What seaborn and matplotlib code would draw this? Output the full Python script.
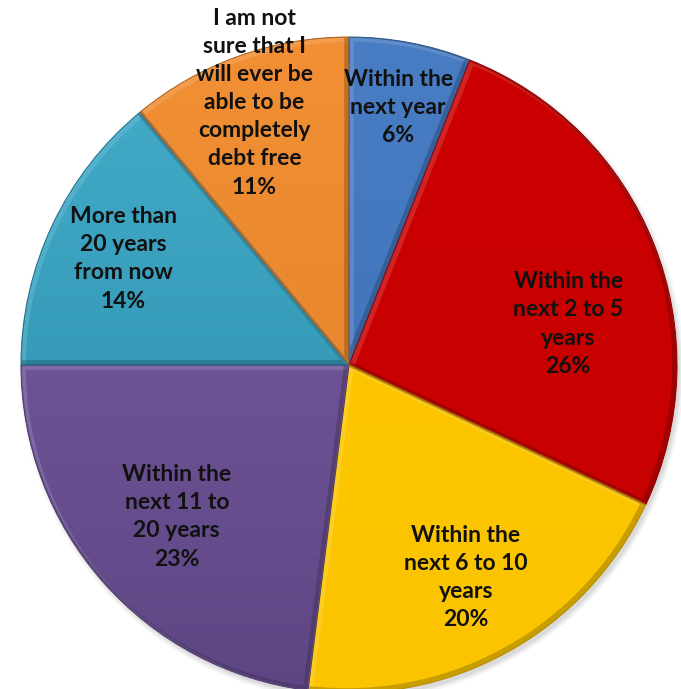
import numpy as np
import matplotlib
matplotlib.use("Agg")
import matplotlib.pyplot as plt
import matplotlib.colors as mcolors
import matplotlib.transforms as mtransforms
from matplotlib.patches import PathPatch, Circle
import seaborn as sns

# Survey answers: when do you expect to be debt free?
labels = [
    "Within the\nnext year",
    "Within the\nnext 2 to 5\nyears",
    "Within the\nnext 6 to 10\nyears",
    "Within the\nnext 11 to\n20 years",
    "More than\n20 years\nfrom now",
    "I am not\nsure that I\nwill ever be\nable to be\ncompletely\ndebt free",
]
shares = [6, 26, 20, 23, 14, 11]
colors = ["#4178C2", "#CC0000", "#FFC800", "#7254A0", "#2CA2C4", "#F28A2A"]
# top / bottom shading factors of each wedge's vertical gradient
shading = [(1.04, 0.92), (1.0, 0.97), (1.0, 0.98), (1.08, 0.82), (1.12, 0.85), (1.05, 0.92)]

# label placement: (radius fraction, angular shift in degrees from wedge middle)
label_layout = [(0.80, 0.0), (0.68, -11.0), (0.74, 0.0), (0.70, 0.0), (0.76, 0.0), (0.85, 0.0)]

sns.set_theme(style="white")
plt.rcParams["font.family"] = ["Lato", "DejaVu Sans"]

W, H, DPI = 681, 689, 100
fig = plt.figure(figsize=(W / DPI, H / DPI), dpi=DPI)
ax = fig.add_axes([0, 0, 1, 1])
cx_px, cy_px, r_px = 349, 365, 328

# soft drop shadow under the disc
for k, a in enumerate([0.04, 0.05, 0.06]):
    ax.add_patch(Circle((0.008, -0.012), 1.0 + 0.006 * (2 - k), color="black",
                        alpha=a, lw=0, zorder=0))

wedges, _ = ax.pie(shares, colors=colors, startangle=90, counterclock=False,
                   radius=1.0, wedgeprops=dict(linewidth=0))


def shade(c, f):
    rgb = np.array(mcolors.to_rgb(c))
    if f >= 1:
        return tuple(np.clip(rgb + (1 - rgb) * (f - 1), 0, 1))
    return tuple(rgb * f)


# vertical gradient fill clipped to each wedge
grad = np.linspace(0, 1, 256)[:, None]
for w, c, (ft, fb) in zip(wedges, colors, shading):
    w.set_facecolor("none")
    top, bot = np.array(shade(c, ft)), np.array(shade(c, fb))
    img = top[None, None, :] * (1 - grad[:, :, None]) + bot[None, None, :] * grad[:, :, None]
    im = ax.imshow(img, extent=(-1.02, 1.02, -1.02, 1.02), origin="upper",
                   interpolation="bilinear", zorder=1)
    im.set_clip_path(w)

# bevel: light rim on upper-left facing edges, dark rim on lower-right facing edges
for w, c in zip(wedges, colors):
    path = w.get_path()
    for (dx, dy), col, lw, al in [((2.0, -2.0), shade(c, 1.35), 4, 0.40),
                                  ((-2.0, 2.0), shade(c, 0.55), 4, 0.45)]:
        off = mtransforms.ScaledTranslation(dx / DPI, dy / DPI, fig.dpi_scale_trans)
        p = PathPatch(path, facecolor="none", edgecolor=col, lw=lw, alpha=al,
                      transform=ax.transData + off, zorder=2)
        ax.add_patch(p)
        p.set_clip_path(w)
    ax.add_patch(PathPatch(path, facecolor="none", edgecolor=shade(c, 0.7), lw=0.7,
                           transform=ax.transData, zorder=3))

# text labels with percentages
for w, lab, pct, (rf, dang) in zip(wedges, labels, shares, label_layout):
    mid = np.deg2rad((w.theta1 + w.theta2) / 2 + dang)
    ax.text(rf * np.cos(mid), rf * np.sin(mid), f"{lab}\n{pct}%",
            ha="center", va="center", fontsize=16.5, fontweight="bold",
            color="#111111", linespacing=1.42, zorder=5)

ax.set_xlim(-cx_px / r_px, (W - cx_px) / r_px)
ax.set_ylim((cy_px - H) / r_px, cy_px / r_px)
ax.set_aspect("equal")
ax.axis("off")

fig.savefig("out.png", dpi=DPI)
